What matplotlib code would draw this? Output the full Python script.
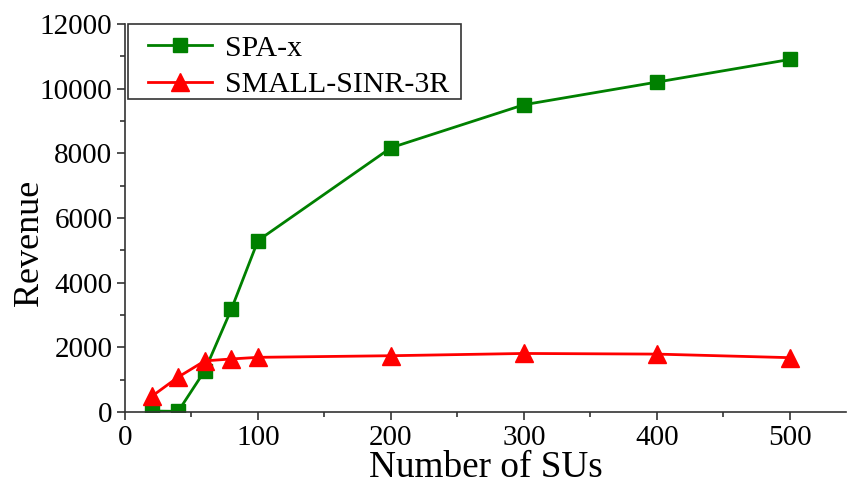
import matplotlib
matplotlib.use("Agg")
import matplotlib.pyplot as plt
from matplotlib.ticker import MultipleLocator
from matplotlib.patches import Rectangle

x = [20, 40, 60, 80, 100, 200, 300, 400, 500]
spa_x = [30, 20, 1280, 3180, 5300, 8170, 9500, 10200, 10900]
small_sinr = [480, 1080, 1580, 1640, 1690, 1740, 1810, 1790, 1680]
labels = ["SPA-x", "SMALL-SINR-3R"]

plt.rcParams['font.family'] = ['Liberation Serif', 'DejaVu Serif']
fig = plt.figure(figsize=(8.48, 4.87), dpi=100)
ax = fig.add_axes([0.1474, 0.154, 0.85, 0.797])
ax.plot(x, spa_x, color='#008000', marker='s', markersize=10, linewidth=2, label=labels[0])
ax.plot(x, small_sinr, color='#ff0000', marker='^', markersize=13, linewidth=2, label=labels[1])

ax.set_xlim(0, 542)
ax.set_ylim(0, 12000)
ax.xaxis.set_major_locator(MultipleLocator(100))
ax.xaxis.set_minor_locator(MultipleLocator(50))
ax.yaxis.set_major_locator(MultipleLocator(2000))
ax.yaxis.set_minor_locator(MultipleLocator(1000))
for s in ['top', 'right']:
    ax.spines[s].set_visible(False)
for s in ['left', 'bottom']:
    ax.spines[s].set_linewidth(1.2)
    ax.spines[s].set_color('#333333')
ax.tick_params(which='major', direction='out', length=6, width=1.2, labelsize=21, color='#333333', pad=3)
ax.tick_params(which='minor', direction='out', length=3.5, width=1.2, color='#333333')
ax.set_xlabel("Number of SUs", fontsize=26.8, labelpad=0)
ax.set_ylabel("Revenue", fontsize=26)
ax.yaxis.set_label_coords(-0.11, 0.436)

# legend frame drawn separately
frame = Rectangle((0.004, 0.807), 0.462, 0.193, transform=ax.transAxes, fill=True,
                  facecolor='white', edgecolor='#333333', linewidth=1.2, zorder=4, clip_on=False)
ax.add_patch(frame)
leg = ax.legend(loc='upper left', bbox_to_anchor=(0.032, 0.972), fontsize=21.5, frameon=False,
                borderaxespad=0, handlelength=2.13, borderpad=0, labelspacing=0.32,
                handletextpad=0.43, markerscale=1.05)
leg.set_zorder(5)
fig.savefig("out.png", dpi=100)
